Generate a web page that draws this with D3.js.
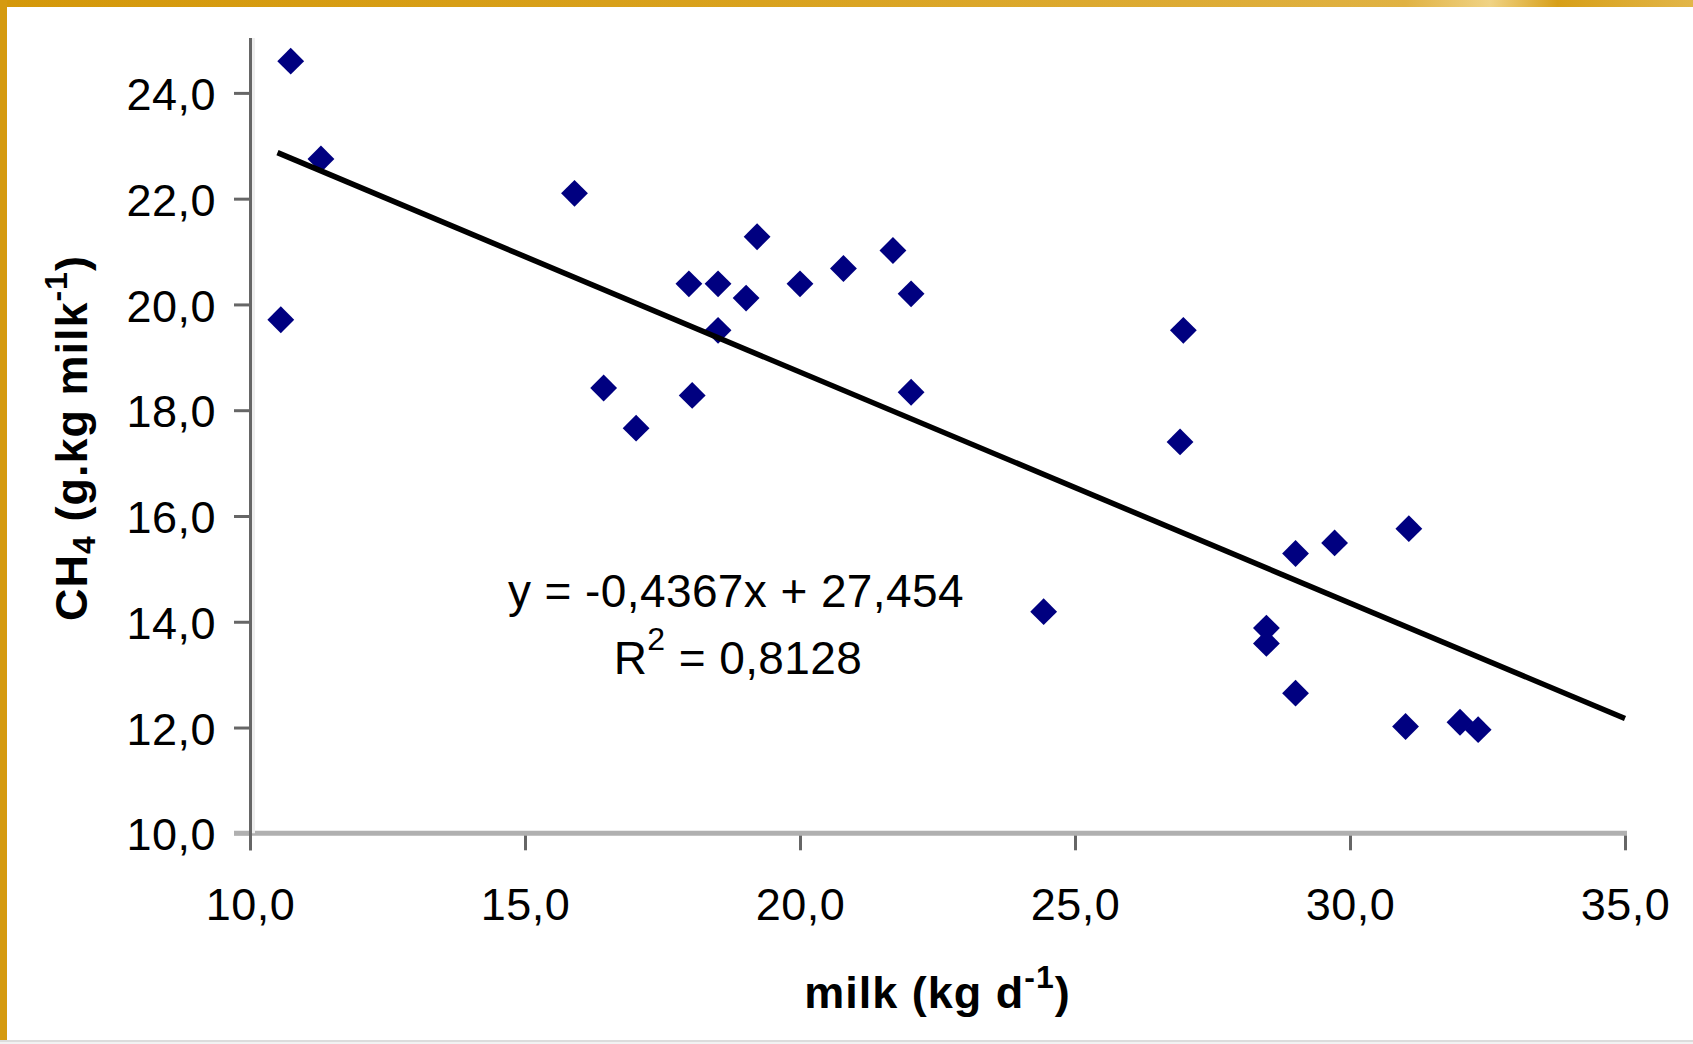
<!DOCTYPE html>
<html>
<head>
<meta charset="utf-8">
<script src="https://cdn.jsdelivr.net/npm/d3@7"></script>
<style>
  body { margin: 0; background: #fff; }
  text { font-family: "Liberation Sans", Arial, sans-serif; fill: #000; }
</style>
</head>
<body>
<div id="chart-area"></div>
<script>
// data
const milk = [10.74, 11.29, 10.56, 15.90, 16.43, 17.02, 17.98, 18.04, 18.51, 18.51,
  19.02, 19.22, 20.00, 20.79, 21.69, 22.02, 22.02, 24.43, 26.97, 26.91,
  28.48, 28.48, 29.01, 29.01, 29.72, 31.07, 31.01, 32.00, 32.33]
const ch4 = [24.60, 22.75, 19.71, 22.10, 18.42, 17.66, 20.39, 18.28, 20.39, 19.51,
  20.12, 21.28, 20.39, 20.68, 21.02, 20.20, 18.34, 14.19, 19.51, 17.40,
  13.88, 13.59, 15.29, 12.65, 15.49, 15.76, 12.02, 12.10, 11.96]
const trendX = [10.5, 35.0]
const trendY = [22.87, 12.17]
const xTicks = [10, 15, 20, 25, 30, 35]
const yTicks = [10, 12, 14, 16, 18, 20, 22, 24]
const equation = "y = -0,4367x + 27,454"
const rSquared = "0,8128"

const WIDTH = 1693
const HEIGHT = 1044
const PLOT = { LEFT: 250, RIGHT: 1625, TOP: 40, BOTTOM: 833.3 }

const svg = d3.select("#chart-area").append("svg")
  .attr("width", WIDTH)
  .attr("height", HEIGHT)

svg.append("rect").attr("width", WIDTH).attr("height", HEIGHT).attr("fill", "#fff")

// gold frame
const defs = svg.append("defs")
const grad = defs.append("linearGradient").attr("id", "gold")
const stops = [[0, "#d4980a"], [0.45, "#d9a21e"], [0.7, "#ddab34"], [0.83, "#e0b243"],
  [0.88, "#f0d385"], [0.92, "#d79f18"], [1, "#e2b649"]]
stops.forEach(s => grad.append("stop").attr("offset", s[0]).attr("stop-color", s[1]))
svg.append("rect").attr("x", 0).attr("y", 0).attr("width", WIDTH).attr("height", 7).attr("fill", "url(#gold)")
svg.append("rect").attr("x", 0).attr("y", 0).attr("width", 7).attr("height", 1041).attr("fill", "#d59a0f")
svg.append("rect").attr("x", 0).attr("y", 1040).attr("width", WIDTH).attr("height", 2).attr("fill", "#dcdcdc")
svg.append("rect").attr("x", 0).attr("y", 1042).attr("width", WIDTH).attr("height", 2).attr("fill", "#f2f2f2")

const x = d3.scaleLinear()
  .domain([10, 35])
  .range([PLOT.LEFT, PLOT.RIGHT])

const y = d3.scaleLinear()
  .domain([10, 25])
  .range([PLOT.BOTTOM, PLOT.TOP])

const fmt = d => d.toFixed(1).replace(".", ",")

// x axis
const xAxisCall = d3.axisBottom(x)
  .tickValues(xTicks)
  .tickSize(17)
  .tickSizeOuter(0)
  .tickPadding(38)
  .tickFormat(fmt)

const xAxis = svg.append("g")
  .attr("transform", `translate(0, ${PLOT.BOTTOM})`)
  .call(xAxisCall)
xAxis.select(".domain").remove()
xAxis.append("line")
  .attr("x1", PLOT.LEFT - 16).attr("x2", PLOT.RIGHT + 2)
  .attr("stroke", "#b0b0b0").attr("stroke-width", 5)
xAxis.selectAll(".tick line").attr("stroke", "#666").attr("stroke-width", 3)
xAxis.selectAll(".tick text")
  .attr("font-size", 45)
  .attr("letter-spacing", 0.5)
  .attr("font-family", "'Liberation Sans', Arial, sans-serif")
  .attr("fill", "#000")

// y axis
const yAxisCall = d3.axisLeft(y)
  .tickValues(yTicks)
  .tickSize(16)
  .tickSizeOuter(0)
  .tickPadding(18)
  .tickFormat(fmt)

const yAxis = svg.append("g")
  .attr("transform", `translate(${PLOT.LEFT}, 0)`)
  .call(yAxisCall)
yAxis.select(".domain").remove()
yAxis.append("line")
  .attr("x1", 3.5).attr("x2", 3.5)
  .attr("y1", PLOT.TOP - 2).attr("y2", PLOT.BOTTOM)
  .attr("stroke", "#eeeeee").attr("stroke-width", 3)
yAxis.append("line")
  .attr("x1", 0.5).attr("x2", 0.5)
  .attr("y1", PLOT.TOP - 2).attr("y2", PLOT.BOTTOM + 17)
  .attr("stroke", "#666").attr("stroke-width", 3)
yAxis.selectAll(".tick line")
  .attr("stroke", d => d === 10 ? "#b0b0b0" : "#666")
  .attr("stroke-width", 3)
yAxis.selectAll(".tick text")
  .attr("font-size", 45)
  .attr("letter-spacing", 0.5)
  .attr("dy", "0.37em")
  .attr("font-family", "'Liberation Sans', Arial, sans-serif")
  .attr("fill", "#000")

// points
const points = milk.map((m, i) => ({ milk: m, ch4: ch4[i] }))
svg.append("g").selectAll("path")
  .data(points)
  .join("path")
  .attr("d", d3.symbol(d3.symbolSquare, 360))
  .attr("transform", d => `translate(${x(d.milk)}, ${y(d.ch4)}) rotate(45)`)
  .attr("fill", "#000080")

// trend line
svg.append("path")
  .datum(trendX.map((t, i) => ({ x: t, y: trendY[i] })))
  .attr("fill", "none")
  .attr("stroke", "#000")
  .attr("stroke-width", 5.5)
  .attr("d", d3.line().x(d => x(d.x)).y(d => y(d.y)))

// equation
svg.append("text")
  .attr("x", 736).attr("y", 607)
  .attr("text-anchor", "middle")
  .attr("font-size", 46)
  .attr("letter-spacing", 0.4)
  .text(equation)

const r2 = svg.append("text")
  .attr("x", 738).attr("y", 674)
  .attr("text-anchor", "middle")
  .attr("font-size", 46)
  .attr("letter-spacing", 0.4)
r2.append("tspan").text("R")
r2.append("tspan").attr("dy", -24).attr("font-size", 32).text("2")
r2.append("tspan").attr("dy", 24).text(" = " + rSquared)

// axis titles
const xTitle = svg.append("text")
  .attr("x", (PLOT.LEFT + PLOT.RIGHT) / 2).attr("y", 1008)
  .attr("text-anchor", "middle")
  .attr("font-size", 45)
  .attr("font-weight", "bold")
  .attr("letter-spacing", 1)
xTitle.append("tspan").text("milk (kg d")
xTitle.append("tspan").attr("dy", -20).attr("font-size", 32).text("-1")
xTitle.append("tspan").attr("dy", 20).text(")")

const yTitle = svg.append("text")
  .attr("transform", "translate(87, 438) rotate(-90)")
  .attr("text-anchor", "middle")
  .attr("font-size", 45)
  .attr("font-weight", "bold")
  .attr("letter-spacing", 1)
yTitle.append("tspan").text("CH")
yTitle.append("tspan").attr("dy", 8).attr("font-size", 32).text("4")
yTitle.append("tspan").attr("dy", -8).text(" (g.kg milk")
yTitle.append("tspan").attr("dy", -20).attr("font-size", 32).text("-1")
yTitle.append("tspan").attr("dy", 20).text(")")
</script>
</body>
</html>
